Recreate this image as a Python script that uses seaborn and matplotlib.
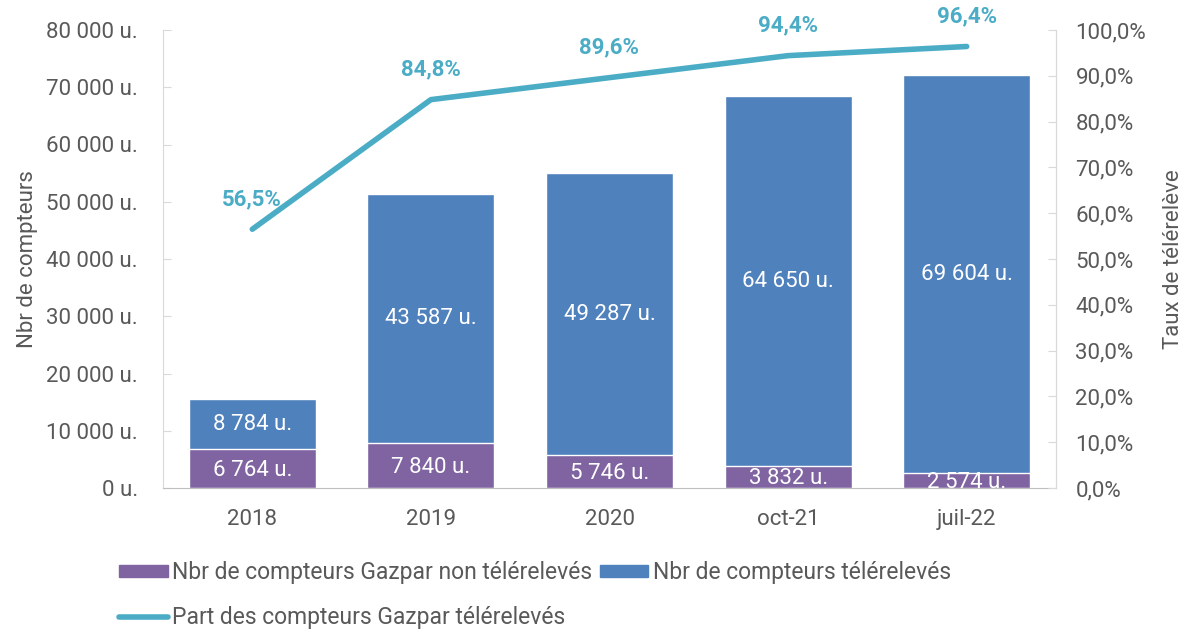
import numpy as np
import pandas as pd
import seaborn as sns
import matplotlib.pyplot as plt
from matplotlib.patches import Patch
from matplotlib.lines import Line2D

# data
periodes = ["2018", "2019", "2020", "oct-21", "juil-22"]
non_teleleves = [6764, 7840, 5746, 3832, 2574]
teleleves = [8784, 43587, 49287, 64650, 69604]
part_teleleves = [56.5, 84.8, 89.6, 94.4, 96.4]

violet = "#8064A2"
bleu = "#4F81BD"
cyan = "#4BACC6"
gris = "#595959"

def fmt_u(v):
    return "{:,}".format(int(v)).replace(",", " ") + " u."

def fmt_pct(v):
    return ("%.1f%%" % v).replace(".", ",")

df = pd.DataFrame({"periode": periodes, "non": non_teleleves, "tele": teleleves})
df["total"] = df["non"] + df["tele"]

sns.set_style("white")
plt.rcParams["font.family"] = ["Roboto", "DejaVu Sans"]
plt.rcParams["font.size"] = 16

fig = plt.figure(figsize=(11.95, 6.31), dpi=100)
ax = fig.add_axes([163 / 1195, 1 - 488 / 631, 893 / 1195, 458 / 631])

# stacked bars: total in blue, non-teleleves in purple over it
sns.barplot(x="periode", y="total", data=df, color=bleu, width=0.71, saturation=1, ax=ax)
sns.barplot(x="periode", y="non", data=df, color=violet, width=0.71, saturation=1, ax=ax)

for i, row in df.iterrows():
    ax.text(i, row["non"] + row["tele"] / 2, fmt_u(row["tele"]), ha="center", va="center",
            color="white", fontsize=16)
    ax.text(i, row["non"] / 2 - 300, fmt_u(row["non"]), ha="center", va="center",
            color="white", fontsize=16, clip_on=True)

ax.set_ylim(0, 80000)
ax.set_xlim(-0.5, 4.5)
ax.set_yticks(np.arange(0, 80001, 10000))
ax.set_yticklabels([fmt_u(v) for v in np.arange(0, 80001, 10000)])
ax.set_xlabel("")
ax.set_ylabel("Nbr de compteurs", color=gris, fontsize=16, labelpad=6)
ax.tick_params(axis="y", colors=gris, labelsize=16, direction="in", length=6,
               color="#D9D9D9", pad=18)
ax.tick_params(axis="x", colors=gris, labelsize=16, length=0, pad=15)
ax.spines["top"].set_visible(False)
for s in ["left", "right"]:
    ax.spines[s].set_color("#D9D9D9")
ax.spines["bottom"].set_color("#BFBFBF")

# taux de telereleve on the right axis
ax2 = ax.twinx()
sns.lineplot(x=np.arange(len(periodes)), y=part_teleleves, color=cyan, linewidth=4,
             solid_capstyle="round", ax=ax2)
for i, p in enumerate(part_teleleves):
    ax2.annotate(fmt_pct(p), (i, p), xytext=(0, 30), textcoords="offset pixels",
                 ha="center", va="center", color=cyan, fontweight="bold", fontsize=16)
ax2.set_ylim(0, 100)
ax2.set_yticks(np.arange(0, 101, 10))
ax2.set_yticklabels([fmt_pct(v) for v in np.arange(0, 101, 10)])
ax2.set_ylabel("Taux de télérelève", color=gris, fontsize=16, labelpad=12)
ax2.tick_params(axis="y", colors=gris, labelsize=16, direction="in", length=6,
                color="#D9D9D9", pad=14)
for s in ["top", "left", "bottom"]:
    ax2.spines[s].set_visible(False)
ax2.spines["right"].set_color("#D9D9D9")

handles = [Patch(color=violet), Line2D([], [], color=cyan, linewidth=4, solid_capstyle="round"),
           Patch(color=bleu)]
labels = ["Nbr de compteurs Gazpar non télérelevés", "Part des compteurs Gazpar télérelevés",
          "Nbr de compteurs télérelevés"]
fig.legend(handles, labels, loc="upper left", bbox_to_anchor=(108 / 1195, 1 - 550 / 631),
           ncol=2, frameon=False, fontsize=16.5, labelcolor=gris, handlelength=2.1,
           handleheight=0.45, handletextpad=0.2, columnspacing=0.35, labelspacing=0.95,
           borderpad=0)

plt.savefig("out.png", dpi=100)
